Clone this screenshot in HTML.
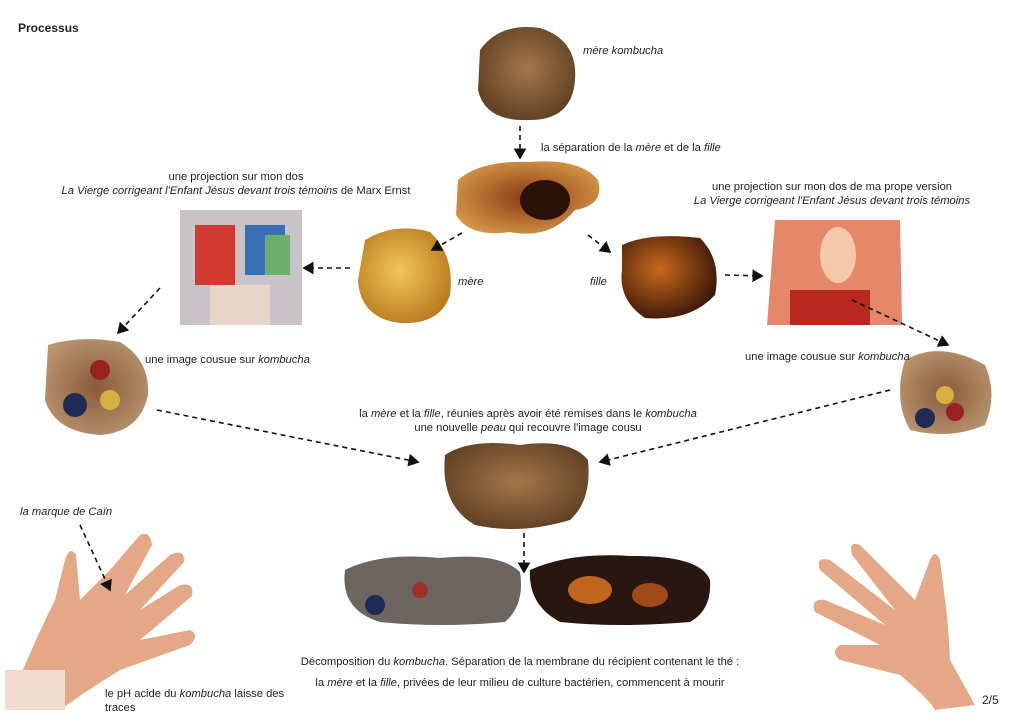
<!DOCTYPE html>
<html><head><meta charset="utf-8"><style>
body{margin:0;width:1024px;height:719px;background:#fff;position:relative;overflow:hidden;font-family:"Liberation Sans",sans-serif;color:#222;font-size:11.2px}
.t{position:absolute;white-space:nowrap;line-height:14px}
.c{text-align:center;transform:translateX(-50%)}
svg{position:absolute;left:0;top:0}
</style></head><body>
<svg width="1024" height="719" viewBox="0 0 1024 719">
<defs>
<radialGradient id="brown" cx="50%" cy="45%" r="60%"><stop offset="0" stop-color="#a4784a"/><stop offset="1" stop-color="#5e3e22"/></radialGradient>
<radialGradient id="gold" cx="45%" cy="45%" r="60%"><stop offset="0" stop-color="#f2c55a"/><stop offset="1" stop-color="#b97a1e"/></radialGradient>
<radialGradient id="dark" cx="40%" cy="40%" r="65%"><stop offset="0" stop-color="#c86a1c"/><stop offset="1" stop-color="#3a1608"/></radialGradient>
<radialGradient id="amber" cx="50%" cy="50%" r="60%"><stop offset="0" stop-color="#8a3a12"/><stop offset="1" stop-color="#d99a4a"/></radialGradient>
<radialGradient id="sew" cx="50%" cy="50%" r="60%"><stop offset="0" stop-color="#8a5a3a"/><stop offset="1" stop-color="#b99670"/></radialGradient>
<marker id="a" markerWidth="8" markerHeight="8" refX="6" refY="4" orient="auto"><path d="M0,0 L7,4 L0,8 Z" fill="#111"/></marker>
</defs>
<path d="M480,50 Q500,22 540,28 Q578,40 575,80 Q572,120 530,120 Q485,122 478,90 Z" fill="url(#brown)"/>
<path d="M458,180 Q480,160 530,162 Q580,158 598,180 Q605,205 575,210 Q550,240 510,232 Q470,238 456,215 Z" fill="url(#amber)"/>
<ellipse cx="545" cy="200" rx="25" ry="20" fill="#2a1208"/>
<path d="M365,240 Q395,222 430,232 Q455,255 450,295 Q440,325 400,323 Q360,318 358,280 Z" fill="url(#gold)"/>
<path d="M622,245 Q650,232 700,238 Q722,260 715,295 Q690,322 645,318 Q618,300 622,270 Z" fill="url(#dark)"/>
<rect x="180" y="210" width="122" height="115" fill="#c9c3c8"/>
<rect x="195" y="225" width="40" height="60" fill="#d13a30"/>
<rect x="245" y="225" width="40" height="50" fill="#3a6fb8"/>
<rect x="265" y="235" width="25" height="40" fill="#6ab06a"/>
<rect x="210" y="285" width="60" height="40" fill="#e8d4c8"/>
<path d="M775,220 L900,220 L902,325 L767,325 Z" fill="#e5886a"/>
<rect x="790" y="290" width="80" height="35" fill="#b8281e"/>
<ellipse cx="838" cy="255" rx="18" ry="28" fill="#f4c8a8"/>
<path d="M48,345 Q80,335 120,342 Q150,360 148,395 Q140,432 100,435 Q55,432 45,400 Z" fill="url(#sew)"/>
<circle cx="75" cy="405" r="12" fill="#1f2a55"/><circle cx="100" cy="370" r="10" fill="#9a2222"/><circle cx="110" cy="400" r="10" fill="#d8b040"/>
<path d="M905,360 Q940,340 985,365 Q998,395 985,425 Q950,440 910,430 Q893,400 905,360 Z" fill="url(#sew)"/>
<circle cx="925" cy="418" r="10" fill="#1f2a55"/><circle cx="955" cy="412" r="9" fill="#9a2222"/><circle cx="945" cy="395" r="9" fill="#d8b040"/>
<path d="M445,455 Q470,438 520,445 Q570,438 588,460 Q592,500 570,520 Q520,535 475,525 Q440,505 445,455 Z" fill="url(#brown)"/>
<path d="M345,570 Q380,552 440,558 Q500,552 520,572 Q525,605 505,622 Q440,628 380,622 Q340,610 345,570 Z" fill="#6d6560"/>
<circle cx="375" cy="605" r="10" fill="#1f2a55"/><circle cx="420" cy="590" r="8" fill="#a0302a"/>
<path d="M530,570 Q570,552 630,556 Q700,555 710,580 Q712,610 690,622 Q620,628 560,622 Q528,605 530,570 Z" fill="#2a1610"/>
<ellipse cx="590" cy="590" rx="22" ry="14" fill="#c0661e"/><ellipse cx="650" cy="595" rx="18" ry="12" fill="#a04a18"/>
<g fill="#e4a886">
<path d="M10,700 L25,665 Q40,630 55,600 Q60,580 65,560 Q70,545 76,555 L80,600 L110,570 L140,535 Q150,530 152,545 L125,595 L170,555 Q185,548 184,562 L140,610 L180,585 Q195,582 192,596 L140,640 L190,630 Q200,635 190,645 L120,670 Q80,695 60,710 Z"/>
</g>
<rect x="5" y="670" width="60" height="40" fill="#f2dcd0"/>
<g fill="#e4a886">
<path d="M975,705 L950,660 Q948,620 945,600 L940,560 Q935,548 930,560 L915,600 L860,545 Q848,540 852,555 L895,610 L830,560 Q815,556 820,570 L885,625 L825,600 Q810,598 815,612 L880,645 L840,645 Q830,652 840,660 L900,675 Q930,700 935,710 Z"/>
</g>
<g stroke="#111" stroke-width="1.6" stroke-dasharray="5,4" fill="none" marker-end="url(#a)">
<line x1="520" y1="126" x2="520" y2="158"/>
<line x1="462" y1="233" x2="432" y2="250"/>
<line x1="588" y1="235" x2="610" y2="252"/>
<line x1="350" y1="268" x2="304" y2="268"/>
<line x1="725" y1="275" x2="762" y2="276"/>
<line x1="160" y1="288" x2="118" y2="333"/>
<line x1="852" y1="300" x2="948" y2="345"/>
<line x1="157" y1="410" x2="418" y2="462"/>
<line x1="890" y1="390" x2="600" y2="462"/>
<line x1="524" y1="533" x2="524" y2="572"/>
<line x1="80" y1="525" x2="110" y2="590"/>
</g>
</svg>
<div class="t" style="left:18px;top:21px;font-weight:bold;font-size:12px">Processus</div>
<div class="t" style="left:583px;top:44px"><i>mère kombucha</i></div>
<div class="t" style="left:541px;top:141px">la séparation de la <i>mère</i> et de la <i>fille</i></div>
<div class="t c" style="left:236px;top:170px">une projection sur mon dos<br><i>La Vierge corrigeant l'Enfant Jésus devant trois témoins</i> de Marx Ernst</div>
<div class="t c" style="left:832px;top:180px">une projection sur mon dos de ma prope version<br><i>La Vierge corrigeant l'Enfant Jésus devant trois témoins</i></div>
<div class="t" style="left:458px;top:275px"><i>mère</i></div>
<div class="t" style="left:590px;top:275px"><i>fille</i></div>
<div class="t" style="left:145px;top:353px">une image cousue sur <i>kombucha</i></div>
<div class="t" style="left:745px;top:350px">une image cousue sur <i>kombucha</i></div>
<div class="t c" style="left:528px;top:407px">la <i>mère</i> et la <i>fille</i>, réunies après avoir été remises dans le <i>kombucha</i><br>une nouvelle <i>peau</i> qui recouvre l'image cousu</div>
<div class="t" style="left:20px;top:505px"><i>la marque de Caïn</i></div>
<div class="t c" style="left:520px;top:655px">Décomposition du <i>kombucha</i>. Séparation de la membrane du récipient contenant le thé :</div>
<div class="t c" style="left:520px;top:676px">la <i>mère</i> et la <i>fille</i>, privées de leur milieu de culture bactérien, commencent à mourir</div>
<div class="t" style="left:105px;top:687px">le pH acide du <i>kombucha</i> laisse des<br>traces</div>
<div class="t" style="left:982px;top:693px;font-size:12px">2/5</div>
</body></html>
